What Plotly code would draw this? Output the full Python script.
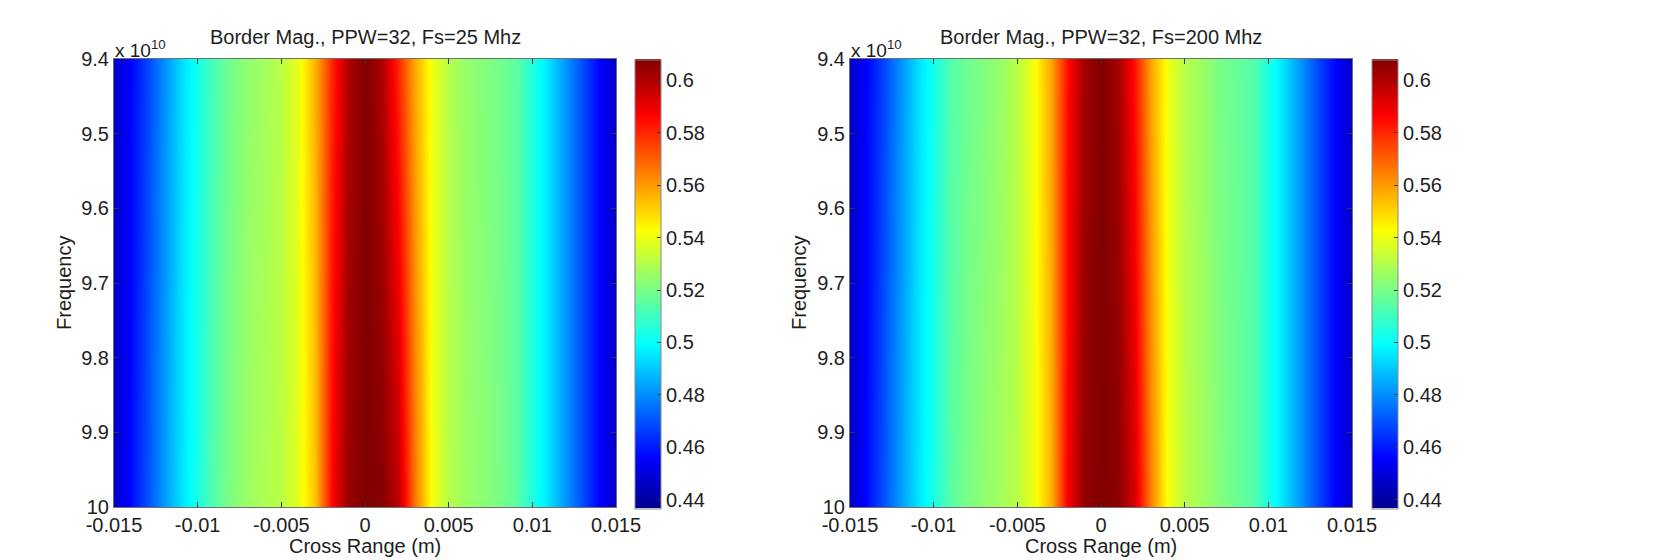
import plotly.graph_objects as go

# ---------------- data ----------------
cross_range = [-0.015, -0.014, -0.013, -0.012, -0.011, -0.010, -0.009, -0.008,
               -0.007, -0.006, -0.005, -0.004, -0.003, -0.002, -0.001, 0.0,
               0.001, 0.002, 0.003, 0.004, 0.005, 0.006, 0.007, 0.008,
               0.009, 0.010, 0.011, 0.012, 0.013, 0.014, 0.015]
frequency = [9.4e10, 1.0e11]

# Fs = 25 MHz : border magnitude at top (9.4e10) and bottom (1e11) frequency
mag25_top = [0.446, 0.456, 0.467, 0.480, 0.493, 0.503, 0.512, 0.519,
             0.524, 0.527, 0.531, 0.539, 0.556, 0.580, 0.600, 0.608,
             0.600, 0.580, 0.557, 0.540, 0.530, 0.525, 0.522, 0.519,
             0.515, 0.505, 0.494, 0.481, 0.468, 0.456, 0.446]
mag25_bot = [0.446, 0.457, 0.469, 0.482, 0.494, 0.504, 0.514, 0.521,
             0.526, 0.529, 0.531, 0.538, 0.553, 0.586, 0.604, 0.608,
             0.607, 0.598, 0.566, 0.541, 0.530, 0.526, 0.523, 0.520,
             0.515, 0.505, 0.494, 0.481, 0.468, 0.456, 0.446]

# Fs = 200 MHz
mag200_top = [0.446, 0.456, 0.467, 0.480, 0.493, 0.503, 0.513, 0.518,
              0.521, 0.525, 0.531, 0.541, 0.558, 0.585, 0.602, 0.608,
              0.602, 0.584, 0.558, 0.540, 0.530, 0.526, 0.520, 0.517,
              0.514, 0.504, 0.493, 0.480, 0.467, 0.456, 0.446]
mag200_bot = [0.446, 0.457, 0.469, 0.482, 0.494, 0.504, 0.514, 0.520,
              0.524, 0.527, 0.531, 0.540, 0.556, 0.588, 0.605, 0.608,
              0.606, 0.594, 0.564, 0.541, 0.531, 0.527, 0.522, 0.518,
              0.514, 0.504, 0.493, 0.480, 0.467, 0.456, 0.446]

titles = ["Border Mag., PPW=32, Fs=25 Mhz", "Border Mag., PPW=32, Fs=200 Mhz"]

x_tickvals = [-0.015, -0.01, -0.005, 0, 0.005, 0.01, 0.015]
x_ticktext = ["-0.015", "-0.01", "-0.005", "0", "0.005", "0.01", "0.015"]
y_tickvals = [9.4e10, 9.5e10, 9.6e10, 9.7e10, 9.8e10, 9.9e10, 1.0e11]
y_ticktext = ["9.4", "9.5", "9.6", "9.7", "9.8", "9.9", "10"]
cb_tickvals = [0.44, 0.46, 0.48, 0.50, 0.52, 0.54, 0.56, 0.58, 0.60]
cb_ticktext = ["0.44", "0.46", "0.48", "0.5", "0.52", "0.54", "0.56", "0.58", "0.6"]
c_min, c_max = 0.4366, 0.6080

# ---------------- styling ----------------
W, H = 1671, 560
FONT = "Liberation Sans, Arial, sans-serif"
TXT = "#1e1e1e"
FS = 20

jet = [
    [0.0, "rgb(0,0,143)"],
    [7 / 63, "rgb(0,0,255)"],
    [23 / 63, "rgb(0,255,255)"],
    [39 / 63, "rgb(255,255,0)"],
    [55 / 63, "rgb(255,0,0)"],
    [1.0, "rgb(128,0,0)"],
]

plots = [
    dict(x0=114, x1=616, cb=635, data=(mag25_top, mag25_bot), ylab_x=64),
    dict(x0=850, x1=1352, cb=1372, data=(mag200_top, mag200_bot), ylab_x=799),
]
top_px, bot_px = 59, 507

def fx(px):
    return px / W

def fy(py):
    return (H - py) / H

fig = go.Figure()
annotations = []
for i, p in enumerate(plots):
    sfx = "" if i == 0 else str(i + 1)
    fig.add_trace(go.Heatmap(
        x=cross_range, y=frequency, z=[p["data"][0], p["data"][1]],
        colorscale=jet, zmin=c_min, zmax=c_max, zsmooth="best",
        xaxis="x" + sfx, yaxis="y" + sfx, hoverinfo="skip",
        colorbar=dict(
            x=fx(p["cb"]), xanchor="left", xpad=0, ypad=0,
            y=fy((top_px + bot_px + 2) / 2), yanchor="middle",
            len=bot_px - top_px + 1, lenmode="pixels", thickness=26,
            outlinewidth=1, outlinecolor="#8a8a8a",
            tickmode="array", tickvals=cb_tickvals, ticktext=cb_ticktext,
            ticks="inside", ticklen=4, tickcolor="#333", tickwidth=1,
            tickfont=dict(family=FONT, size=FS, color=TXT),
        ),
    ))
    axis_common = dict(
        showgrid=False, zeroline=False, showline=True, linecolor="#707070",
        linewidth=1, mirror="ticks", ticks="inside", ticklen=5,
        tickcolor="#333", tickfont=dict(family=FONT, size=FS, color=TXT),
        automargin=False,
    )
    fig.layout["xaxis" + sfx] = dict(
        axis_common, domain=[fx(p["x0"]), fx(p["x1"])],
        anchor="y" + sfx, range=[-0.015, 0.015],
        tickmode="array", tickvals=x_tickvals, ticktext=x_ticktext,
    )
    fig.layout["yaxis" + sfx] = dict(
        axis_common, domain=[fy(bot_px), fy(top_px)],
        anchor="x" + sfx, range=[1.0e11, 9.4e10],
        tickmode="array", tickvals=y_tickvals, ticktext=y_ticktext,
    )
    cx = (p["x0"] + p["x1"]) / 2
    annotations += [
        dict(text=titles[i], x=fx(cx), y=fy(37), xref="paper", yref="paper",
             showarrow=False, xanchor="center", yanchor="middle",
             font=dict(family=FONT, size=FS, color=TXT)),
        dict(text="x 10<sup>10</sup>", x=fx(p["x0"] - 1), y=fy(49),
             xref="paper", yref="paper", showarrow=False,
             xanchor="left", yanchor="middle",
             font=dict(family=FONT, size=19, color=TXT)),
        dict(text="Cross Range (m)", x=fx(cx), y=fy(546), xref="paper",
             yref="paper", showarrow=False, xanchor="center", yanchor="middle",
             font=dict(family=FONT, size=FS, color=TXT)),
        dict(text="Frequency", x=fx(p["ylab_x"]), y=fy((top_px + bot_px) / 2),
             xref="paper", yref="paper", showarrow=False, textangle=-90,
             xanchor="center", yanchor="middle",
             font=dict(family=FONT, size=FS, color=TXT)),
    ]

fig.update_layout(
    width=W, height=H, margin=dict(l=0, r=0, t=0, b=0, autoexpand=False),
    paper_bgcolor="white", plot_bgcolor="white",
    annotations=annotations, showlegend=False,
)

fig.write_html("out.html")
